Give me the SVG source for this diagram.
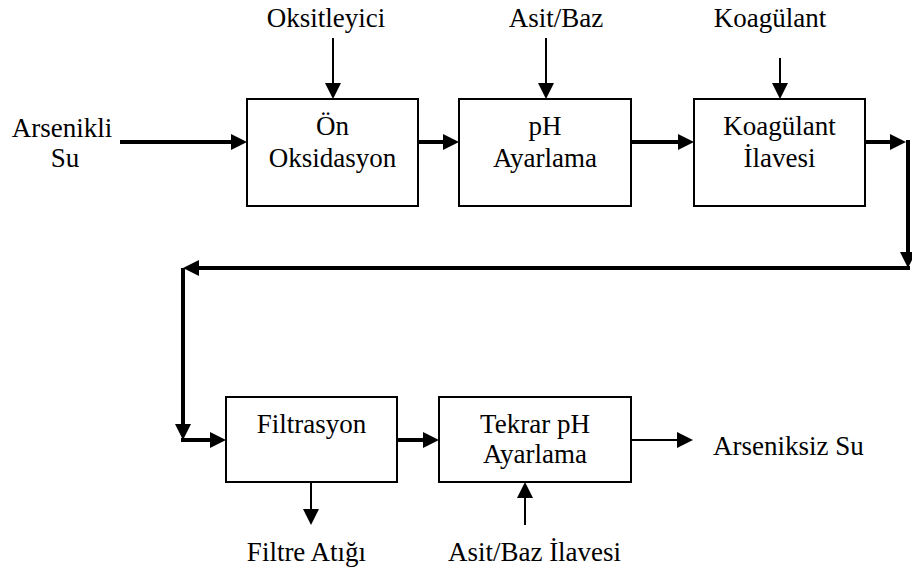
<svg xmlns="http://www.w3.org/2000/svg" width="912" height="571" viewBox="0 0 912 571">
<defs>
<style>
text{font-family:'Liberation Serif','DejaVu Serif',serif;font-size:27px;fill:#000;text-anchor:middle}
.box{fill:#fff;stroke:#000;stroke-width:2}
.thick{fill:none;stroke:#000;stroke-width:4}
.thin{fill:none;stroke:#000;stroke-width:2}
</style>
<marker id="ah" viewBox="0 0 16 16" refX="0" refY="8" markerWidth="16" markerHeight="16" markerUnits="userSpaceOnUse" orient="auto">
<path d="M0,0 L16,8 L0,16 z" fill="#000"/>
</marker>
</defs>
<rect width="912" height="571" fill="#fff"/>

<g id="connectors">
<path class="thick" d="M120,142 H231" marker-end="url(#ah)"/>
<path class="thick" d="M418,142 H443" marker-end="url(#ah)"/>
<path class="thick" d="M631,142 H678" marker-end="url(#ah)"/>
<path class="thick" d="M865,142 H890" marker-end="url(#ah)"/>
<path class="thick" d="M908,140 V252" marker-end="url(#ah)"/>
<path class="thick" d="M910,268 H199" marker-end="url(#ah)"/>
<path class="thick" d="M183,268 V424" marker-end="url(#ah)"/>
<path class="thick" d="M181,440 H210" marker-end="url(#ah)"/>
<path class="thick" d="M397,440 H423" marker-end="url(#ah)"/>
<path class="thin" d="M631,440 H677" marker-end="url(#ah)"/>
<path class="thin" d="M333,38 V83" marker-end="url(#ah)"/>
<path class="thin" d="M546,38 V83" marker-end="url(#ah)"/>
<path class="thin" d="M780,58 V83" marker-end="url(#ah)"/>
<path class="thin" d="M311,482 V509" marker-end="url(#ah)"/>
<path class="thin" d="M525,525 V498" marker-end="url(#ah)"/>
</g>

<g font-family="'Liberation Serif', 'DejaVu Serif', serif">
<g id="src">
<text x="62" y="137">Arsenikli</text>
<text x="65" y="167">Su</text>
</g>
<g id="oksitleyici"><text x="326" y="27">Oksitleyici</text></g>
<g id="asitbaz"><text x="556" y="27">Asit/Baz</text></g>
<g id="koagulant-in"><text x="770" y="27">Koagülant</text></g>

<g id="on-oksidasyon">
<rect class="box" x="247" y="99" width="171" height="107"/>
<text x="332.5" y="135">Ön</text>
<text x="332.5" y="167">Oksidasyon</text>
</g>
<g id="ph-ayarlama">
<rect class="box" x="459" y="99" width="172" height="107"/>
<text x="545" y="135">pH</text>
<text x="545" y="167">Ayarlama</text>
</g>
<g id="koagulant-ilavesi">
<rect class="box" x="694" y="99" width="171" height="107"/>
<text x="779.5" y="135">Koagülant</text>
<text x="779.5" y="167">İlavesi</text>
</g>
<g id="filtrasyon">
<rect class="box" x="226" y="397" width="171" height="85"/>
<text x="311.5" y="433">Filtrasyon</text>
</g>
<g id="tekrar-ph">
<rect class="box" x="439" y="397" width="192" height="85"/>
<text x="535" y="433">Tekrar pH</text>
<text x="535" y="463">Ayarlama</text>
</g>
<g id="arseniksiz"><text x="713" y="455" style="text-anchor:start">Arseniksiz Su</text></g>
<g id="filtre-atigi"><text x="306.5" y="561">Filtre Atığı</text></g>
<g id="asitbaz-ilavesi"><text x="534.5" y="561">Asit/Baz İlavesi</text></g>
</g>
</svg>
